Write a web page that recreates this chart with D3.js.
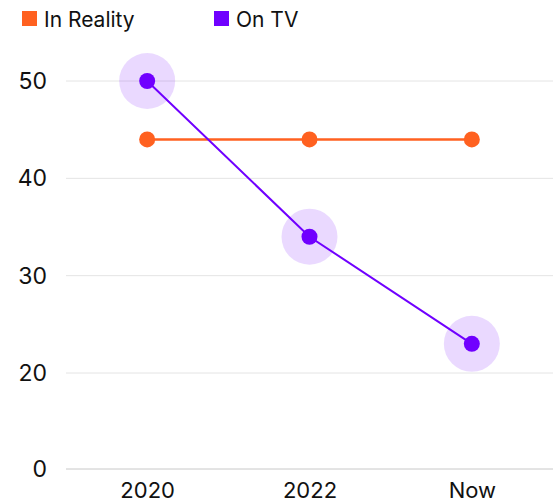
<!DOCTYPE html>
<html><head><meta charset="utf-8">
<script src="https://cdn.jsdelivr.net/npm/d3@7"></script>
<style>body{margin:0;background:#fff}svg{display:block;font-family:Inter,"Noto Sans",sans-serif}</style>
</head><body><svg id="c" width="556" height="502"></svg>
<script>
const categories = ["2020", "2022", "Now"];
const realityValues = [44, 44, 44];
const tvValues = [50, 34, 23];
const yTicks = [0, 20, 30, 40, 50];
const seriesNames = ["In Reality", "On TV"];
const colors = ["#ff6120", "#7000ff"];

const svg = d3.select("#c");
const x = d3.scalePoint().domain(categories).range([66, 553]).padding(0.5);
// broken axis: 0 baseline, then linear from 20 upward
const y = d3.scaleLinear().domain([0, 20, 50]).range([469, 373, 81]);

// gridlines
svg.append("g").selectAll("line").data(yTicks).join("line")
  .attr("x1", 66).attr("x2", 553)
  .attr("y1", d => y(d)).attr("y2", d => y(d))
  .attr("stroke", d => d === 0 ? "#c8c8c8" : "#e4e4e4").attr("stroke-width", 1);

// y axis
const yAxis = d3.axisLeft(y).tickValues(yTicks).tickSize(0).tickPadding(0);
const ya = svg.append("g").attr("transform", "translate(47,0)").call(yAxis);
ya.select(".domain").remove();
ya.selectAll("text").attr("font-size", 23).attr("fill", "#111").attr("font-family", "Inter,'Noto Sans',sans-serif");

// x axis
const xAxis = d3.axisBottom(x).tickSize(0).tickPadding(0);
const xa = svg.append("g").attr("transform", "translate(0,482)").call(xAxis);
xa.select(".domain").remove();
xa.selectAll("text").attr("font-size", 22).attr("fill", "#111").attr("font-family", "Inter,'Noto Sans',sans-serif");

const line = d3.line().x((d, i) => x(categories[i])).y(d => y(d));

// halos for On TV
svg.append("g").selectAll("circle").data(tvValues).join("circle")
  .attr("cx", (d, i) => x(categories[i])).attr("cy", d => y(d)).attr("r", 28)
  .attr("fill", colors[1]).attr("fill-opacity", 0.15);

// In Reality line
svg.append("path").datum(realityValues).attr("d", line)
  .attr("fill", "none").attr("stroke", colors[0]).attr("stroke-width", 2.5);
svg.append("g").selectAll("circle").data(realityValues).join("circle")
  .attr("cx", (d, i) => x(categories[i])).attr("cy", d => y(d)).attr("r", 8)
  .attr("fill", colors[0]);

// On TV line
svg.append("path").datum(tvValues).attr("d", line)
  .attr("fill", "none").attr("stroke", colors[1]).attr("stroke-width", 2);
svg.append("g").selectAll("circle").data(tvValues).join("circle")
  .attr("cx", (d, i) => x(categories[i])).attr("cy", d => y(d)).attr("r", 8)
  .attr("fill", colors[1]);

// legend
const legX = [22, 214];
const lg = svg.append("g").selectAll("g").data(seriesNames).join("g")
  .attr("transform", (d, i) => `translate(${legX[i]},11)`);
lg.append("rect").attr("width", 15).attr("height", 15).attr("fill", (d, i) => colors[i]);
lg.append("text").attr("x", 22).attr("y", 15.5).attr("font-size", 21).attr("fill", "#111").text(d => d);
</script></body></html>
